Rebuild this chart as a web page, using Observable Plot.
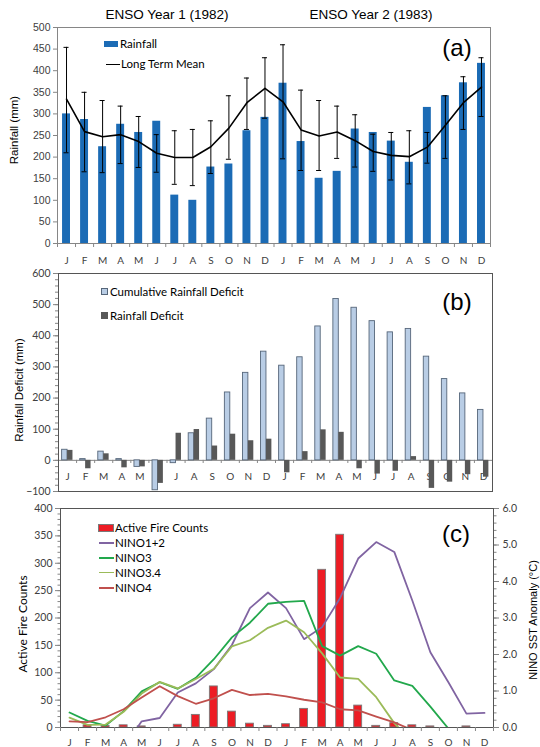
<!DOCTYPE html>
<html><head><meta charset="utf-8">
<script src="https://cdn.jsdelivr.net/npm/d3@7"></script>
<script src="https://cdn.jsdelivr.net/npm/@observablehq/plot@0.6"></script>
<style>
body{margin:0;background:#fff;}
#wrap{position:relative;width:540px;height:747px;overflow:hidden;background:#fff;}
</style></head>
<body><div id="wrap"></div>
<script>
// ---------- data ----------
const months = ["J","F","M","A","M","J","J","A","S","O","N","D"];
const yearTitles = ["ENSO Year 1 (1982)", "ENSO Year 2 (1983)"];
// panel (a) rainfall (mm), Jan 1982 .. Dec 1983
const rainfall     = [300,287,224,276,257,283,112,100,177,184,261,292, 371,236,151,167,265,257,237,188,315,342,372,417];
const longTermMean = [334,259,247,252,236,209,199,199,224,267,326,359, 328,263,249,258,238,213,204,201,223,274,326,362];
const errUpper     = [454,350,331,318,294,252,261,264,284,342,383,430, 460,355,331,318,298,253,257,261,257,342,386,430];
const errLower     = [210,166,164,185,176,165,137,134,162,195,264,290, 196,169,169,197,177,167,147,138,186,197,264,294];
// panel (b) deficits (mm)
const cumDeficit   = [34,4,28,4,-21,-96,-9,87,134,218,281,349, 304,331,430,518,490,447,411,422,333,261,215,162];
const deficit      = [32,-27,21,-24,-21,-74,87,99,46,84,63,68, -40,28,98,90,-27,-44,-35,12,-90,-70,-46,-54];
// panel (c) fire counts and NINO SST anomalies (°C)
const fireCounts   = [0,4,3,4,2,0,5,23,75,29,7,3, 6,34,288,352,40,3,8,4,2,0,2,0];
const nino12 = [-0.6,-0.7,-0.6,-0.54,0.17,0.26,0.96,1.21,1.60,2.26,3.27,3.70, 3.27,2.42,2.75,3.55,4.63,5.08,4.81,3.48,2.06,1.24,0.38,0.40];
const nino3  = [0.41,0.18,0.05,0.45,0.99,1.24,1.06,1.36,1.87,2.47,2.87,3.39, 3.44,3.47,2.23,1.97,2.23,2.02,1.29,1.14,0.57,-0.03,-0.3,-0.2];
const nino34 = [0.27,0.07,0.08,0.43,0.93,1.25,1.07,1.33,1.61,2.22,2.39,2.73, 2.93,2.61,2.03,1.37,1.33,0.83,0.12,-0.4,-0.5,-0.6,-0.6,-0.7];
const nino4  = [0.17,0.15,0.28,0.50,0.82,1.13,0.86,0.65,0.80,1.03,0.89,0.92, 0.85,0.76,0.69,0.50,0.47,0.30,0.14,-0.07,-0.3,-0.4,-0.5,-0.5];
const ninoSeries = [
  {name: "NINO1+2", values: nino12, color: "#8064a2"},
  {name: "NINO3",   values: nino3,  color: "#22a84c"},
  {name: "NINO3.4", values: nino34, color: "#9bbb59"},
  {name: "NINO4",   values: nino4,  color: "#c0504d"}
];
const yTicksA = d3.range(0, 501, 50);
const yTicksB = d3.range(-100, 601, 100);
const yTicksC = d3.range(0, 401, 50);
const sstTicks = d3.range(0, 6.01, 1);
const sstMax = 6, fireMax = 400;

// ---------- helpers ----------
const wrap = document.getElementById("wrap");
const idx = d3.range(24);
const bounds = d3.range(25);
const centers = idx.map(i => i + 0.5);
const mLabel = d => months[Math.floor(d) % 12];
const GRID = "#868686", TXT = "#404040";
const ARIAL = "'Liberation Sans', Arial, sans-serif";
const CAL = "Lato, sans-serif";

function place(node, top) {
  node.style.position = "absolute"; node.style.left = "0px"; node.style.top = top + "px";
  wrap.appendChild(node);
}
function addEl(css, content) {
  const e = document.createElement("div");
  e.style.cssText = "position:absolute;white-space:nowrap;line-height:1;" + css;
  if (content != null) e.textContent = content;
  wrap.appendChild(e); return e;
}
function label(text, x, y, css) { addEl(`left:${x}px;top:${y}px;transform:translateY(-50%);` + css, text); }
function center(text, x, y, css) { addEl(`left:${x}px;top:${y}px;transform:translate(-50%,-50%);` + css, text); }
function vlabel(text, x, y, css) { addEl(`left:${x}px;top:${y}px;transform:translate(-50%,-50%) rotate(-90deg);` + css, text); }
function swatch(x, y, w, h, css) { addEl(`left:${x}px;top:${y}px;width:${w}px;height:${h}px;box-sizing:border-box;` + css); }

// ---------- panel (a) ----------
const A = idx.map(i => ({i, rain: rainfall[i], ltm: longTermMean[i], hi: errUpper[i], lo: errLower[i]}));
const pa = Plot.plot({
  width: 540, height: 266, marginLeft: 57, marginRight: 50, marginTop: 27, marginBottom: 23,
  x: {domain: [0, 24], label: null}, y: {domain: [0, 500], label: null},
  style: {background: "transparent", overflow: "visible"},
  marks: [
    Plot.rectY(A, {x1: d => d.i + 0.28, x2: d => d.i + 0.72, y1: 0, y2: "rain", fill: "#1b6bb5"}),
    Plot.ruleX(A, {x: d => d.i + 0.5, y1: "lo", y2: "hi", stroke: "#000", strokeWidth: 1}),
    Plot.ruleY(A, {y: "hi", x1: d => d.i + 0.36, x2: d => d.i + 0.64, stroke: "#000", strokeWidth: 1}),
    Plot.ruleY(A, {y: "lo", x1: d => d.i + 0.36, x2: d => d.i + 0.64, stroke: "#000", strokeWidth: 1}),
    Plot.line(A, {x: d => d.i + 0.5, y: "ltm", stroke: "#000", strokeWidth: 1.6}),
    Plot.frame({stroke: GRID}),
    Plot.axisY({ticks: yTicksA, tickSize: 4, tickPadding: 3, stroke: GRID, fill: TXT, fontSize: 10.5, fontFamily: ARIAL, label: null}),
    Plot.axisX({ticks: bounds, tickSize: 4, tickFormat: () => "", stroke: GRID, label: null}),
    Plot.axisX({ticks: centers, tickSize: 0, tickPadding: 13, tickFormat: mLabel, fill: TXT, fontSize: 10, fontFamily: CAL, label: null})
  ]
});
place(pa, 0);

// ---------- panel (b) ----------
const B = idx.map(i => ({i, m: months[i % 12], cum: cumDeficit[i], def: deficit[i]}));
const pb = Plot.plot({
  width: 540, height: 234, marginLeft: 58, marginRight: 48, marginTop: 7, marginBottom: 9,
  x: {domain: [0, 24], label: null, axis: null}, y: {domain: [-100, 600], label: null},
  style: {background: "transparent", overflow: "visible"},
  marks: [
    Plot.text(B, {x: d => d.i + 0.5, y: 0, dy: 16, text: "m", fill: TXT, fontSize: 10, fontFamily: CAL}),
    Plot.ruleY([0], {stroke: GRID}),
    Plot.ruleX(bounds, {x: d => d, y1: 0, y2: -10, stroke: GRID}),
    Plot.rectY(B, {x1: d => d.i + 0.2, x2: d => d.i + 0.5, y1: 0, y2: "cum", fill: "#b9cde5", stroke: "#56667a", strokeWidth: 0.9}),
    Plot.rectY(B, {x1: d => d.i + 0.5, x2: d => d.i + 0.8, y1: 0, y2: "def", fill: "#585858"}),
    Plot.frame({stroke: "#555"}),
    Plot.axisY({ticks: d3.range(-100, 601, 20), tickSize: 3, tickFormat: () => "", stroke: GRID, label: null}),
    Plot.axisY({ticks: yTicksB, tickSize: 5, tickPadding: 3, stroke: GRID, fill: TXT, fontSize: 10.5, fontFamily: CAL, label: null})
  ]
});
place(pb, 266);

// ---------- panel (c) ----------
const k = fireMax / sstMax;
const C = idx.map(i => ({i, fire: fireCounts[i]}));
const lines = ninoSeries.flatMap(s => s.values.map((v, i) => ({i, name: s.name, v: v * k, color: s.color})));
const pc = Plot.plot({
  width: 540, height: 247, marginLeft: 60, marginRight: 47, marginTop: 8, marginBottom: 20,
  x: {domain: [0, 24], label: null}, y: {domain: [0, fireMax], label: null},
  style: {background: "transparent", overflow: "visible"},
  marks: [
    Plot.rectY(C.filter(d => d.fire > 0), {x1: d => d.i + 0.28, x2: d => d.i + 0.72, y1: 0, y2: "fire", fill: "#ed1c24", stroke: "#7a7a7a", strokeWidth: 0.9}),
    ...ninoSeries.map(s => Plot.line(lines.filter(d => d.name === s.name), {x: d => d.i + 0.5, y: "v", stroke: s.color, strokeWidth: 1.8, clip: true})),
    Plot.frame({stroke: "#555"}),
    Plot.axisY({ticks: d3.range(0, 401, 10), tickSize: 2.5, tickFormat: () => "", stroke: GRID, label: null}),
    Plot.axisY({ticks: yTicksC, tickSize: 5, tickPadding: 3, stroke: GRID, fill: TXT, fontSize: 10.5, fontFamily: CAL, label: null}),
    Plot.axisY({anchor: "right", ticks: d3.range(0, 6.01, 0.2).map(v => v * k), tickSize: 2.5, tickFormat: () => "", stroke: GRID, label: null}),
    Plot.axisY({anchor: "right", ticks: sstTicks.map(v => v * k), tickSize: 5, tickPadding: 4, tickFormat: d => (d / k).toFixed(1), stroke: GRID, fill: TXT, fontSize: 10.5, fontFamily: CAL, label: null}),
    Plot.axisX({ticks: bounds, tickSize: 4, tickFormat: () => "", stroke: GRID, label: null}),
    Plot.axisX({ticks: centers, tickSize: 0, tickPadding: 11, tickFormat: mLabel, fill: TXT, fontSize: 10, fontFamily: CAL, label: null})
  ]
});
place(pc, 500);

// ---------- titles, tags, axis titles ----------
center(yearTitles[0], 167, 15, `font-family:${ARIAL};font-size:13.5px;color:#000;`);
center(yearTitles[1], 371, 15, `font-family:${ARIAL};font-size:13.5px;color:#000;`);
center("(a)", 457, 48, `font-family:${ARIAL};font-size:24px;color:#000;`);
center("(b)", 457, 302, `font-family:${ARIAL};font-size:24px;color:#000;`);
center("(c)", 456, 534, `font-family:${ARIAL};font-size:24px;color:#000;`);
vlabel("Rainfall (mm)", 15, 130, `font-family:${ARIAL};font-size:11.5px;color:#000;`);
vlabel("Rainfall Deficit  (mm)", 20, 390, `font-family:${ARIAL};font-size:11.5px;color:#000;`);
vlabel("Active Fire Counts", 23, 624, `font-family:${CAL};font-size:12px;color:#000;`);
vlabel("NINO SST Anomaly (°C)", 533, 620, `font-family:${ARIAL};font-size:11px;color:#000;`);

// ---------- legends ----------
const LEG = `font-family:${CAL};font-size:11.5px;color:#000;`;
swatch(104, 41, 14, 6, "background:#1b6bb5;");
label("Rainfall", 120, 44, LEG);
swatch(106, 63.5, 14, 1.6, "background:#000;");
label("Long Term Mean", 121, 64, LEG);

swatch(101, 288, 7, 7, "background:#b9cde5;border:1px solid #56667a;");
label("Cumulative Rainfall Deficit", 110, 291.5, LEG);
swatch(101, 312, 7, 7, "background:#585858;");
label("Rainfall Deficit", 110, 315.5, LEG);

swatch(98, 524, 16, 8, "background:#ed1c24;border:1px solid #7a7a7a;");
label("Active Fire Counts", 115, 528, LEG);
const legY = [543, 558, 572.5, 588];
ninoSeries.forEach((s, j) => {
  swatch(99, legY[j] - 0.9, 15, 1.8, `background:${s.color};`);
  label(s.name, 115, legY[j], LEG);
});
</script>
</body></html>
